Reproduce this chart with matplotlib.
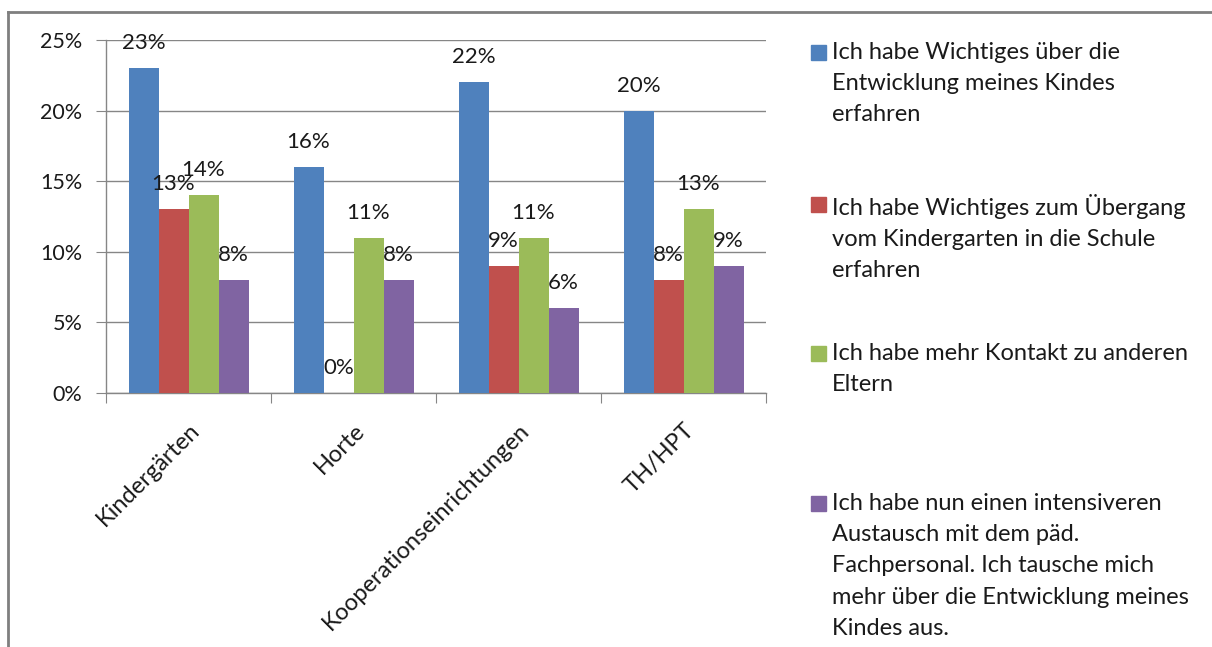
import numpy as np
import matplotlib
matplotlib.use("Agg")
import matplotlib.pyplot as plt
from matplotlib.patches import Rectangle
from matplotlib.lines import Line2D

plt.rcParams['font.family'] = ['Lato', 'DejaVu Sans']

# Daten
kategorien = ['Kindergärten', 'Horte', 'Kooperationseinrichtungen', 'TH/HPT']
wichtiges_entwicklung = [23, 16, 22, 20]
wichtiges_uebergang = [13, 0, 9, 8]
mehr_kontakt = [14, 11, 11, 13]
intensiver_austausch = [8, 8, 6, 9]
y_ticks = [0, 5, 10, 15, 20, 25]

serien = [wichtiges_entwicklung, wichtiges_uebergang, mehr_kontakt, intensiver_austausch]
legenden = [
    "Ich habe Wichtiges über die\nEntwicklung meines Kindes\nerfahren",
    "Ich habe Wichtiges zum Übergang\nvom Kindergarten in die Schule\nerfahren",
    "Ich habe mehr Kontakt zu anderen\nEltern",
    "Ich habe nun einen intensiveren\nAustausch mit dem päd.\nFachpersonal. Ich tausche mich\nmehr über die Entwicklung meines\nKindes aus.",
]
farben = ['#4F81BD', '#C0504D', '#9BBB59', '#8064A2']
grau = '#868686'
textfarbe = '#1a1a1a'

W, H = 1212, 647
fig = plt.figure(figsize=(W / 100, H / 100), dpi=100)
ax = fig.add_axes([106 / W, (H - 393) / H, (766 - 106) / W, (393 - 40) / H])

x = np.arange(len(kategorien))
breite = 1 / 5.5
for i, (werte, farbe) in enumerate(zip(serien, farben)):
    pos = x + (i - 1.5) * breite
    ax.bar(pos, werte, width=breite, color=farbe, zorder=3)
    for px, v in zip(pos, werte):
        ax.annotate(f"{v}%", (px, v), xytext=(0, 18), textcoords='offset points',
                    ha='center', va='center', fontsize=16, color=textfarbe, zorder=4)

ax.set_xlim(-0.5, len(kategorien) - 0.5)
ax.set_ylim(0, 25)
ax.set_yticks(y_ticks)
ax.set_yticklabels([f"{t}%" for t in y_ticks], fontsize=15.5, color=textfarbe)
ax.yaxis.grid(True, color=grau, linewidth=1, zorder=0)
ax.tick_params(axis='y', length=7, color=grau, pad=10)

ax.set_xticks(np.arange(len(kategorien) + 1) - 0.5)
ax.set_xticklabels([])
ax.tick_params(axis='x', which='major', length=7, color=grau)
ax.set_xticks(x, minor=True)
ax.set_xticklabels(kategorien, minor=True, rotation=45, ha='right',
                   rotation_mode='anchor', fontsize=17, color=textfarbe)
ax.tick_params(axis='x', which='minor', length=0, pad=19)

for s in ['top', 'right']:
    ax.spines[s].set_visible(False)
for s in ['left', 'bottom']:
    ax.spines[s].set_color(grau)
    ax.spines[s].set_linewidth(1)

# Legende (manuell, Marker an erster Zeile)
leg_y = [52, 204, 353, 503]
for ly, farbe, text in zip(leg_y, farben, legenden):
    fig.patches.append(Rectangle((811 / W, (H - ly - 7.5) / H), 15 / W, 15 / H,
                                 transform=fig.transFigure, color=farbe))
    fig.text(832 / W, (H - ly + 10) / H, text, ha='left', va='top', fontsize=17,
             color=textfarbe, linespacing=1.6)

# Rahmen
fig.add_artist(Line2D([8 / W, 1], [(H - 12) / H, (H - 12) / H], color='#7f7f7f', lw=2))
fig.add_artist(Line2D([8 / W, 8 / W], [0, (H - 12) / H], color='#7f7f7f', lw=2))

fig.savefig('out.png', dpi=100)
